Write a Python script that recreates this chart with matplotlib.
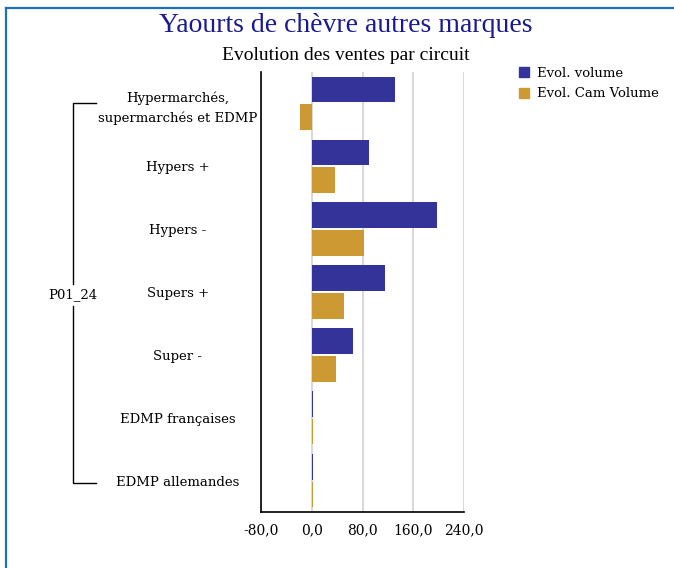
import numpy as np
import matplotlib.pyplot as plt
from matplotlib.lines import Line2D
from matplotlib.patches import Patch

# circuits, top to bottom
circuits = [
    "Hypermarchés,\nsupermarchés et EDMP",
    "Hypers +",
    "Hypers -",
    "Supers +",
    "Super -",
    "EDMP françaises",
    "EDMP allemandes",
]
evol_volume = [131, 90, 198, 116, 65, 1.5, 1.5]
evol_cam_volume = [-18, 36, 82, 51, 38, 1.5, 1.5]
period = "P01_24"
xticks = [-80, 0, 80, 160, 240]

blue = "#333399"
gold = "#cc9933"
serif = "DejaVu Serif"

fig = plt.figure(figsize=(6.74, 5.68), dpi=100)

# blue frame along the top and left edge
fig.add_artist(Line2D([6 / 674, 1], [1 - 8 / 568] * 2, color="#1f6fc0", lw=1.6))
fig.add_artist(Line2D([6 / 674] * 2, [0, 1 - 8 / 568], color="#1f6fc0", lw=1.6))

fig.text(0.513, 1 - 26 / 568, "Yaourts de chèvre autres marques", ha="center",
         va="center", fontsize=20, color="#1a1a8c", family="Liberation Serif")
fig.text(0.513, 1 - 55 / 568, "Evolution des ventes par circuit", ha="center",
         va="center", fontsize=14, color="black", family="Liberation Serif")

ax = fig.add_axes([261 / 674, 1 - 512 / 568, (464 - 261) / 674, 440 / 568])
y = np.arange(len(circuits))
h = 0.41
ax.barh(y - 0.22, evol_volume, height=h, color=blue, zorder=3)
ax.barh(y + 0.22, evol_cam_volume, height=h, color=gold, zorder=3)

ax.set_xlim(-80, 240)
ax.set_ylim(len(circuits) - 0.5, -0.5)
ax.set_xticks(xticks)
ax.set_xticklabels([f"{v:.1f}".replace(".", ",") for v in xticks],
                   family=serif, fontsize=10)
ax.set_yticks(y)
ax.set_yticklabels(circuits, family=serif, fontsize=9.5, ha="center",
                   linespacing=1.6)
ax.tick_params(axis="y", length=0, pad=60)
ax.tick_params(axis="x", length=0, pad=8)
ax.grid(axis="x", color="#d9d9d9", lw=1.5, zorder=0)
for s in ["top", "right"]:
    ax.spines[s].set_visible(False)
for s in ["left", "bottom"]:
    ax.spines[s].set_linewidth(1.2)

# bracket grouping all circuits under the period label
bx0, bx1 = 73 / 674, 96 / 674
yt, yb, ym = 1 - 103 / 568, 1 - 483 / 568, 1 - 295 / 568
fig.add_artist(Line2D([bx1, bx0, bx0], [yt, yt, ym + 0.02], color="black", lw=1))
fig.add_artist(Line2D([bx0, bx0, bx1], [ym - 0.02, yb, yb], color="black", lw=1))
fig.text(bx0, ym, period, ha="center", va="center", family=serif, fontsize=9.5)

handles = [Patch(color=blue, label="Evol. volume"),
           Patch(color=gold, label="Evol. Cam Volume")]
fig.legend(handles=handles, loc="upper left", bbox_to_anchor=(507 / 674, 1 - 55 / 568),
           frameon=False, prop={"family": serif, "size": 9.5},
           handlelength=0.8, handleheight=0.8, handletextpad=0.6, labelspacing=0.55)

fig.savefig("out.png", dpi=100)
